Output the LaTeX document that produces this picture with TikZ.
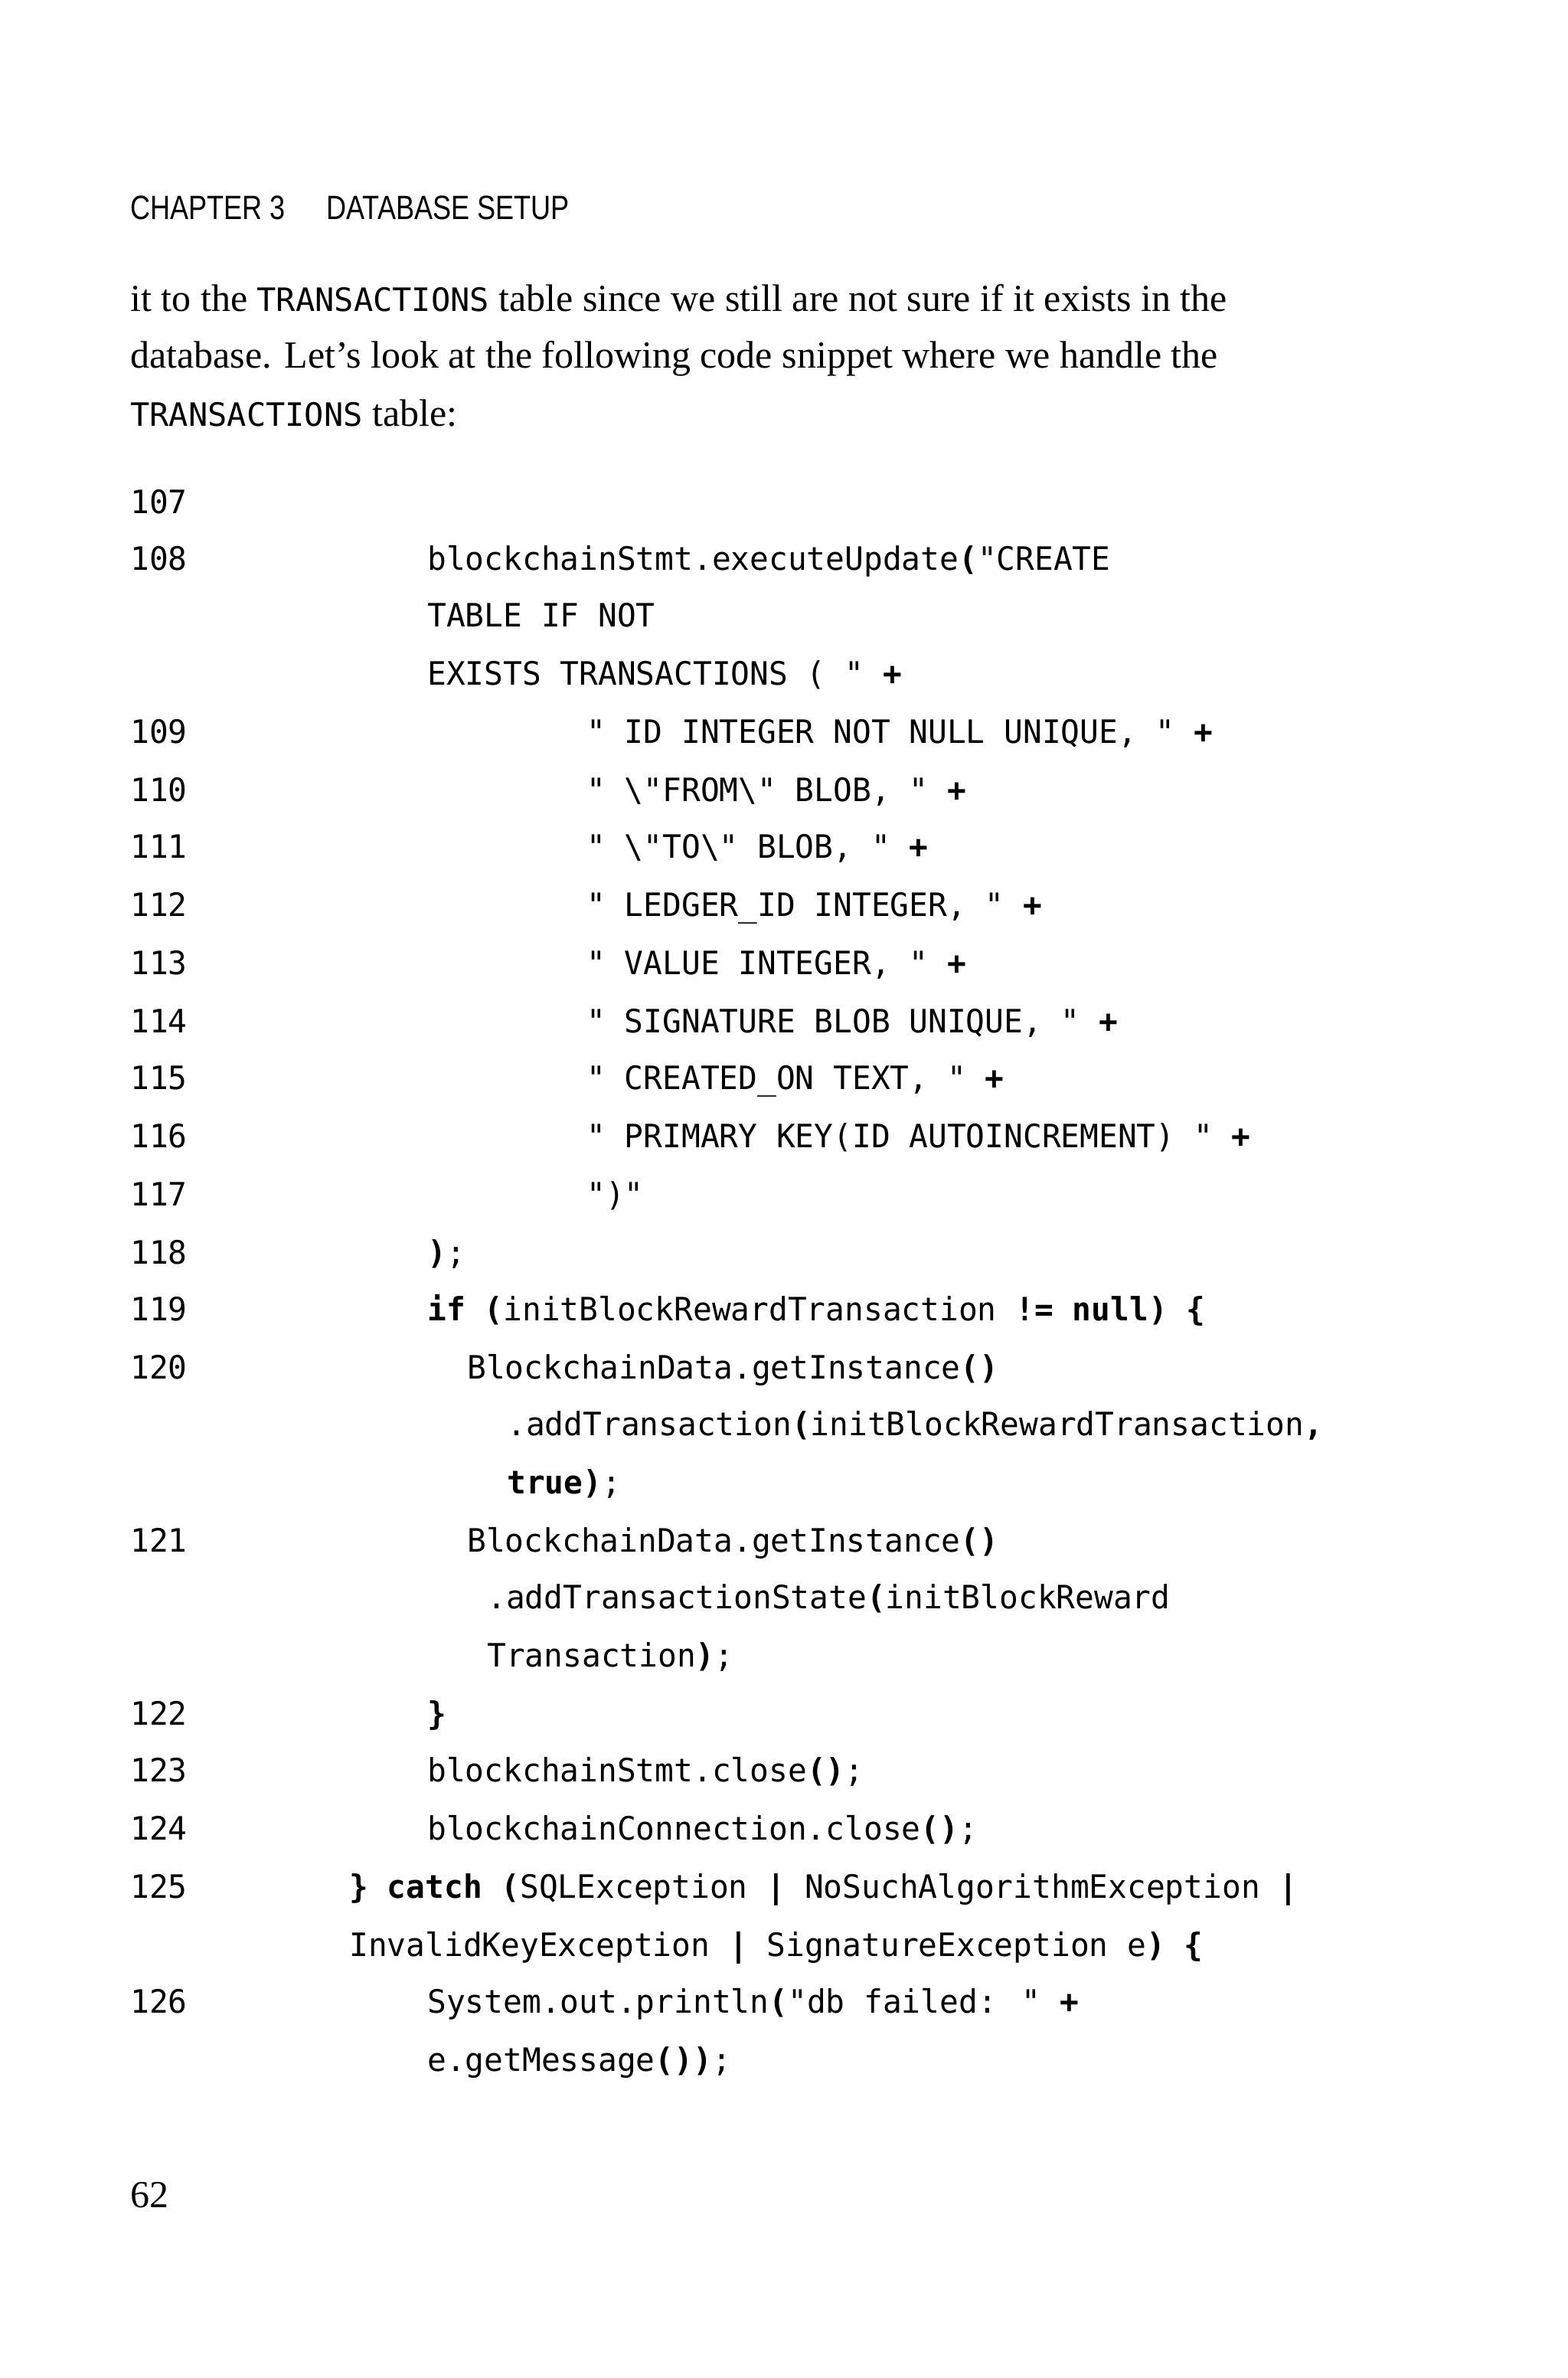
\documentclass[tikz,border=0pt]{standalone}
\usepackage{fontspec}
\setmainfont{Liberation Serif}
\newfontfamily\cd{DejaVu Sans Mono}
\newfontfamily\hd{Liberation Sans}
\newcommand\kb[1]{{\bfseries #1}}
\begin{document}
\begin{tikzpicture}[x=1pt,y=-1pt,
 every node/.style={inner sep=0pt,anchor=base west},
 code/.style={font=\cd\fontsize{21}{24}\selectfont,xscale=0.98},
 body/.style={font=\fontsize{25}{30}\selectfont},
 hdr/.style={font=\hd\fontsize{22}{26}\selectfont,xscale=0.82}]
\useasboundingbox[fill=white] (0,0) rectangle (1024,1552.5);
\node[hdr] (h1) at (85,143) {CHAPTER 3};
\node[hdr] (h2) at (213,143) {DATABASE SETUP};
\node[body] (t1) at (85,203) {it to the {\cd\fontsize{21}{24}\selectfont TRANSACTIONS} table since we still are not sure if it exists in the};
\node[body] (t2) at (85,240) {database. Let’s look at the following code snippet where we handle the};
\node[body] (t3) at (85,278) {{\cd\fontsize{21}{24}\selectfont TRANSACTIONS} table:};
\def\L#1#2#3#4{\node[code] (n#1) at (85,#2+8) {#3}; \node[code] (c#1) at (#4,#2+8) {#3x};}
\def\N#1#2{\node[code] at (85,#1+8) {#2};}
\def\C#1#2#3{\node[code] at (#1,#2+8) {#3};}
\N{327}{107}
\N{364}{108}\C{279}{364}{blockchainStmt.executeUpdate\kb{(}"CREATE}
\C{279}{401}{TABLE IF NOT}
\C{279}{439}{EXISTS TRANSACTIONS ( " \kb{+}}
\N{477}{109}\C{383}{477}{" ID INTEGER NOT NULL UNIQUE, " \kb{+}}
\N{515}{110}\C{383}{515}{" \textbackslash"FROM\textbackslash" BLOB, " \kb{+}}
\N{552}{111}\C{383}{552}{" \textbackslash"TO\textbackslash" BLOB, " \kb{+}}
\N{590}{112}\C{383}{590}{" LEDGER\_ID INTEGER, " \kb{+}}
\N{628}{113}\C{383}{628}{" VALUE INTEGER, " \kb{+}}
\N{666}{114}\C{383}{666}{" SIGNATURE BLOB UNIQUE, " \kb{+}}
\N{703}{115}\C{383}{703}{" CREATED\_ON TEXT, " \kb{+}}
\N{741}{116}\C{383}{741}{" PRIMARY KEY(ID AUTOINCREMENT) " \kb{+}}
\N{779}{117}\C{383}{779}{")"}
\N{817}{118}\C{279}{817}{\kb{)};}
\N{854}{119}\C{279}{854}{\kb{if (}initBlockRewardTransaction \kb{!= null) \{}}
\N{892}{120}\C{305}{892}{BlockchainData.getInstance\kb{()}}
\C{331}{929}{.addTransaction\kb{(}initBlockRewardTransaction\kb{,}}
\C{331}{967}{\kb{true)};}
\N{1005}{121}\C{305}{1005}{BlockchainData.getInstance\kb{()}}
\C{318}{1042}{.addTransactionState\kb{(}initBlockReward}
\C{318}{1080}{Transaction\kb{)};}
\N{1118}{122}\C{279}{1118}{\kb{\}}}
\N{1155}{123}\C{279}{1155}{blockchainStmt.close\kb{()};}
\N{1193}{124}\C{279}{1193}{blockchainConnection.close\kb{()};}
\N{1231}{125}\C{228}{1231}{\kb{\} catch (}SQLException \kb{|} NoSuchAlgorithmException \kb{|}}
\C{228}{1269}{InvalidKeyException \kb{|} SignatureException e\kb{) \{}}
\N{1306}{126}\C{279}{1306}{System.out.println\kb{(}"db failed: " \kb{+}}
\C{279}{1344}{e.getMessage\kb{())};}
\node[body] (pg) at (85,1441) {62};
\end{tikzpicture}
\end{document}
